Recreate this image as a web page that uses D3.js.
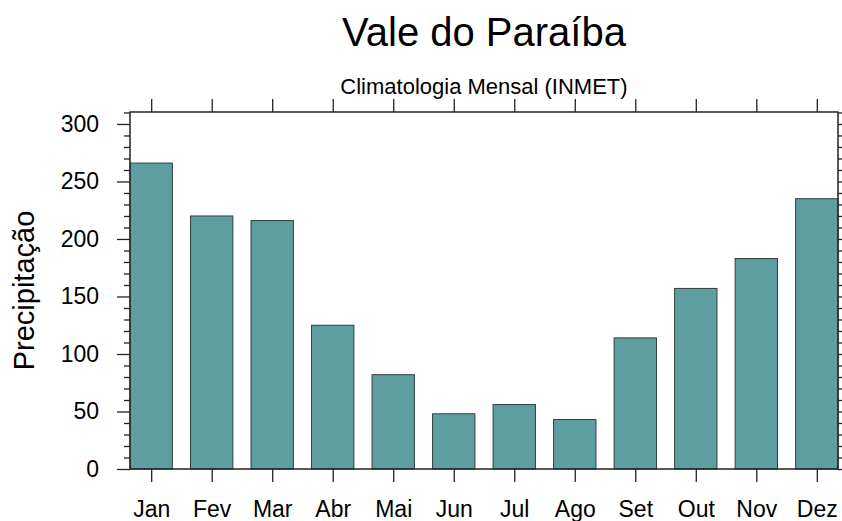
<!DOCTYPE html>
<html>
<head>
<meta charset="utf-8">
<script src="https://cdn.jsdelivr.net/npm/d3@7"></script>
<style>
  body { margin: 0; background: #fff; }
  text { font-family: "Liberation Sans", Arial, sans-serif; fill: #000; }
</style>
</head>
<body>
<script>
// monthly climatology data
const months = ["Jan", "Fev", "Mar", "Abr", "Mai", "Jun", "Jul", "Ago", "Set", "Out", "Nov", "Dez"];
const precip = [266, 220, 216, 125, 82, 48, 56, 43, 114, 157, 183, 235];
const yMajor = [0, 50, 100, 150, 200, 250, 300];

const W = 842, H = 521;
const margin = {left: 130, right: 4, top: 112, bottom: 52};
const width = W - margin.left - margin.right;
const height = H - margin.top - margin.bottom;

const svg = d3.select("body").append("svg")
  .attr("width", W)
  .attr("height", H);

const g = svg.append("g")
  .attr("transform", `translate(${margin.left},${margin.top})`);

// scales
const x = d3.scaleLinear().domain([0.65, 12.35]).range([0, width]);
const y = d3.scaleLinear().domain([0, 310.4]).range([height, 0]);
const barW = x(0.7) - x(0);

// bars
g.selectAll(".bar")
  .data(precip)
  .enter().append("rect")
  .attr("class", "bar")
  .attr("x", (d, i) => x(i + 1) - barW / 2)
  .attr("y", d => y(d))
  .attr("width", barW)
  .attr("height", d => y(0) - y(d))
  .attr("fill", "#5f9ea0")
  .attr("stroke", "#2f3f3f")
  .attr("stroke-width", 1);

const monthIdx = months.map((m, i) => i + 1);
const yMinor = d3.range(10, 311, 10).filter(v => v % 50 !== 0);

function styleAxis(sel) {
  sel.select(".domain").remove();
  sel.selectAll(".tick line").attr("stroke", "#222").attr("stroke-width", 1.3);
}

// left axis
g.append("g")
  .call(d3.axisLeft(y).tickValues(yMajor).tickSize(13).tickPadding(18).tickSizeOuter(0))
  .call(styleAxis)
  .selectAll("text").style("font-size", "23px");
g.append("g")
  .call(d3.axisLeft(y).tickValues(yMinor).tickSize(6).tickFormat("").tickSizeOuter(0))
  .call(styleAxis);

// right axis
g.append("g")
  .attr("transform", `translate(${width},0)`)
  .call(d3.axisRight(y).tickValues(yMajor).tickSize(13).tickFormat("").tickSizeOuter(0))
  .call(styleAxis);
g.append("g")
  .attr("transform", `translate(${width},0)`)
  .call(d3.axisRight(y).tickValues(yMinor).tickSize(6).tickFormat("").tickSizeOuter(0))
  .call(styleAxis);

// bottom axis
g.append("g")
  .attr("transform", `translate(0,${height})`)
  .call(d3.axisBottom(x).tickValues(monthIdx).tickFormat(d => months[d - 1])
    .tickSize(13).tickPadding(19).tickSizeOuter(0))
  .call(styleAxis)
  .selectAll("text").style("font-size", "23px");

// top axis
g.append("g")
  .call(d3.axisTop(x).tickValues(monthIdx).tickSize(13).tickFormat("").tickSizeOuter(0))
  .call(styleAxis);

// frame
g.append("rect")
  .attr("width", width)
  .attr("height", height)
  .attr("fill", "none")
  .attr("stroke", "#222")
  .attr("stroke-width", 1.5);

// titles
svg.append("text")
  .attr("x", margin.left + width / 2)
  .attr("y", 46)
  .attr("text-anchor", "middle")
  .style("font-size", "40px")
  .text("Vale do Paraíba");

svg.append("text")
  .attr("x", margin.left + width / 2)
  .attr("y", 94)
  .attr("text-anchor", "middle")
  .style("font-size", "22px")
  .text("Climatologia Mensal (INMET)");

svg.append("text")
  .attr("transform", `translate(34,${margin.top + height / 2}) rotate(-90)`)
  .attr("text-anchor", "middle")
  .style("font-size", "29px")
  .text("Precipitação");
</script>
</body>
</html>
